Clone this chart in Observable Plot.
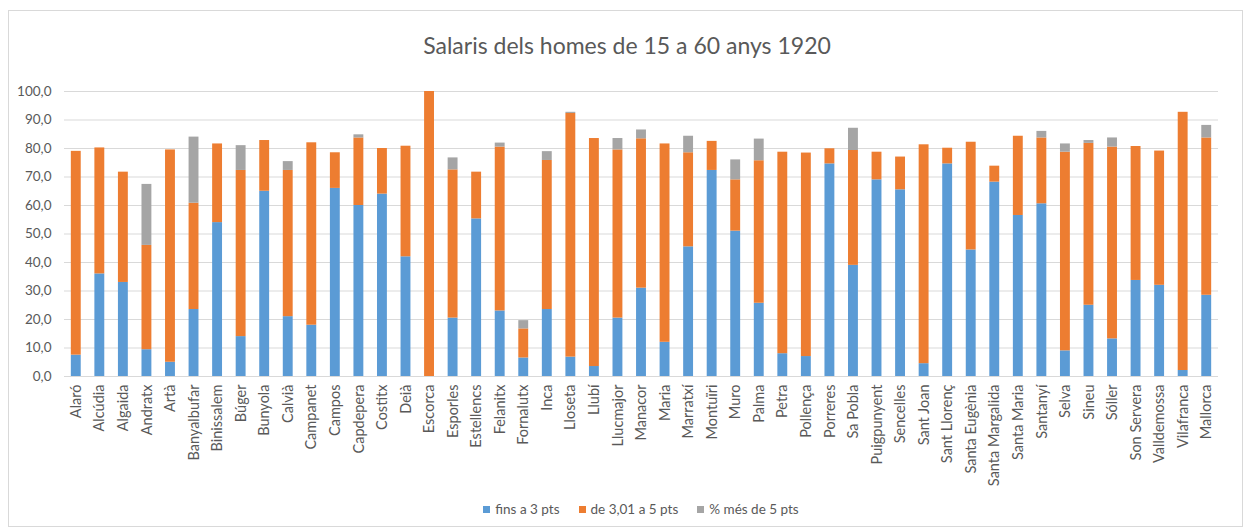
<!DOCTYPE html>
<html>
<head>
<meta charset="utf-8">
<script src="https://cdn.jsdelivr.net/npm/d3@7"></script>
<script src="https://cdn.jsdelivr.net/npm/@observablehq/plot@0.6"></script>
<style>
  body { margin: 0; background: #fff; font-family: Lato, "Open Sans", sans-serif; }
  #frame { position: absolute; left: 8px; top: 10px; width: 1235px; height: 517px; border: 1px solid #d9d9d9; box-sizing: border-box; }
  #title { position: absolute; left: 0; width: 1254px; top: 31px; text-align: center; font-size: 23px; color: #595959; }
  #chart { position: absolute; left: 0; top: 80px; }
  #legend { position: absolute; left: 0; width: 1282px; top: 501px; display: flex; justify-content: center; gap: 19px; font-size: 13.5px; color: #595959; }
  #legend span.item { display: flex; align-items: center; gap: 5px; }
  #legend span.sw { width: 7px; height: 7px; display: inline-block; }
</style>
</head>
<body>
<div id="frame"></div>
<div id="title">Salaris dels homes de 15 a 60 anys 1920</div>
<div id="chart"></div>
<div id="legend"></div>
<script>
const categories = ["Alaró","Alcúdia","Algaida","Andratx","Artà","Banyalbufar","Binissalem","Búger","Bunyola","Calvià","Campanet","Campos","Capdepera","Costitx","Deià","Escorca","Esporles","Estellencs","Felanitx","Fornalutx","Inca","Lloseta","Llubí","Llucmajor","Manacor","Maria","Marratxí","Montuïri","Muro","Palma","Petra","Pollença","Porreres","Sa Pobla","Puigpunyent","Sencelles","Sant Joan","Sant Llorenç","Santa Eugènia","Santa Margalida","Santa Maria","Santanyí","Selva","Sineu","Sóller","Son Servera","Valldemossa","Vilafranca","Mallorca"];
const fins3 =  [7.5,36,33,9.4,5,23.5,54,14,65,21,18,66,60,64,42,0,20.5,55.3,23,6.5,23.5,6.8,3.5,20.5,31,12,45.5,72.3,51,25.7,8,7,74.6,39,69,65.5,4.5,74.6,44.4,68.2,56.5,60.6,9,25,13.2,33.7,32,2.1,28.5];
const de3a5 =  [71.5,44.2,38.7,36.6,74.5,37.3,27.6,58.3,17.8,51.3,64,12.5,23.7,16,38.8,100,52,16.4,57.5,10.2,52.3,85.5,80,59,52.4,69.6,33,10.2,18,50,70.7,71.4,5.3,40.3,9.7,11.5,76.8,5.5,37.8,5.6,27.8,23.1,69.7,56.8,67.3,47,47.1,90.6,55.2];
const mes5 =   [0,0,0,21.4,0,23.2,0,8.7,0,3.1,0,0,1.1,0,0,0,4.2,0,1.4,2.9,3.1,0.4,0,4,3.1,0,5.8,0,7,7.6,0,0,0,7.8,0,0,0,0,0,0,0,2.3,2.9,1,3.2,0,0,0,4.4];
const seriesNames = ["fins a 3 pts","de 3,01 a 5 pts","% més de 5 pts"];
const seriesColors = ["#5B9BD5","#ED7D31","#A5A5A5"];
const yTicks = [0,10,20,30,40,50,60,70,80,90,100];

const rows = [];
categories.forEach((c, i) => {
  rows.push({cat: c, serie: seriesNames[0], v: fins3[i]});
  rows.push({cat: c, serie: seriesNames[1], v: de3a5[i]});
  rows.push({cat: c, serie: seriesNames[2], v: mes5[i]});
});

const fmt = d => d.toFixed(1).replace(".", ",");

const chart = Plot.plot({
  width: 1251,
  height: 420,
  marginTop: 11,
  marginBottom: 124,
  marginLeft: 64,
  marginRight: 33,
  style: { fontFamily: "Lato, 'Open Sans', sans-serif", fontSize: "13.5px", color: "#595959", background: "transparent" },
  x: { domain: categories, paddingInner: 0.58, paddingOuter: 0.29, round: false, label: null, tickSize: 0, tickPadding: 8, tickRotate: -90 },
  y: { domain: [0, 100], ticks: yTicks, tickFormat: fmt, label: null, tickSize: 0, tickPadding: 13 },
  color: { domain: seriesNames, range: seriesColors },
  marks: [
    Plot.ruleY(yTicks.slice(1), { stroke: "#d9d9d9", strokeWidth: 1 }),
    Plot.barY(rows, { x: "cat", y: "v", fill: "serie", order: null }),
    Plot.ruleY([0], { stroke: "#d9d9d9", strokeWidth: 1 })
  ]
});
chart.querySelectorAll("g[aria-label='x-axis tick label'] text").forEach(t => t.style.fontSize = "14.5px");
document.getElementById("chart").appendChild(chart);

const legend = document.getElementById("legend");
seriesNames.forEach((n, i) => {
  const item = document.createElement("span");
  item.className = "item";
  const sw = document.createElement("span");
  sw.className = "sw";
  sw.style.background = seriesColors[i];
  item.appendChild(sw);
  item.appendChild(document.createTextNode(n));
  legend.appendChild(item);
});
</script>
</body>
</html>
